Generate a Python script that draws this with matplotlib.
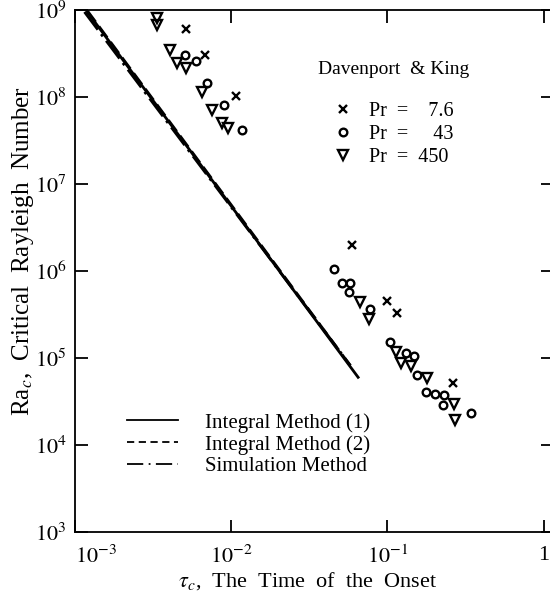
import numpy as np
import matplotlib
matplotlib.use('Agg')
import matplotlib.pyplot as plt
from matplotlib.lines import Line2D
from matplotlib.ticker import FixedLocator, NullLocator

plt.rcParams['font.family'] = ['Liberation Serif', 'DejaVu Serif']
plt.rcParams['mathtext.fontset'] = 'stix'

# ---- data ----
line_labels = ['Integral Method (1)', 'Integral Method (2)', 'Simulation Method']
int1_tau = [1.20e-3, 0.065]
int1_ra = [9.5e8, 6.0e4]
int2_tau = [1.20e-3, 0.060]
int2_ra = [9.8e8, 7.5e4]
sim_tau = [1.15e-3, 0.058]
sim_ra = [9.5e8, 8.2e4]

pr76_tau = [5.15e-3, 6.8e-3, 1.08e-2, 0.0597, 0.100, 0.116, 0.265]
pr76_ra = [6.05e8, 3.04e8, 1.03e8, 1.99e6, 4.52e5, 3.29e5, 5.16e4]

pr43_tau = [5.07e-3, 5.97e-3, 7.02e-3, 9.0e-3, 1.18e-2, 0.0457, 0.0515, 0.058,
            0.057, 0.0778, 0.1045, 0.1325, 0.149, 0.1555, 0.178, 0.203, 0.232,
            0.2285, 0.345]
pr43_ra = [3.04e8, 2.59e8, 1.45e8, 8.1e7, 4.18e7, 1.05e6, 7.28e5, 7.28e5,
           5.74e5, 3.66e5, 1.53e5, 1.14e5, 1.05e5, 6.38e4, 4.07e4, 3.86e4,
           3.76e4, 2.88e4, 2.33e4]

pr450_tau = [3.36e-3, 3.36e-3, 4.06e-3, 4.51e-3, 5.15e-3, 6.52e-3, 7.55e-3,
             8.75e-3, 9.57e-3, 0.0672, 0.0768, 0.114, 0.123, 0.1426, 0.180,
             0.268, 0.273]
pr450_ra = [8.1e8, 6.7e8, 3.47e8, 2.46e8, 2.15e8, 1.14e8, 7.1e7, 5.0e7,
            4.4e7, 4.4e5, 2.8e5, 1.17e5, 8.77e4, 8.1e4, 5.9e4, 2.96e4, 1.94e4]

series_labels = ['Pr  =    7.6', 'Pr  =     43', 'Pr  =  450']
source_label = 'Davenport  & King'

x_ticks = [1e-3, 1e-2, 1e-1, 1]
x_ticklabels = ['$10^{-3}$', '$10^{-2}$', '$10^{-1}$', '1']
y_ticks = [1e3, 1e4, 1e5, 1e6, 1e7, 1e8, 1e9]
y_ticklabels = ['$10^{%d}$' % k for k in range(3, 10)]

# ---- figure ----
W, H = 550, 595
fig = plt.figure(figsize=(W / 100, H / 100), dpi=100)
left_px, bottom_px, top_px = 75, 532, 10
ax = fig.add_axes([left_px / W, 1 - bottom_px / H, 478 / W, (bottom_px - top_px) / H])
ax.set_xscale('log')
ax.set_yscale('log')
ax.set_xlim(1e-3, 1.15)
ax.set_ylim(1e3, 1e9)

lw = 2.0
ax.plot(int1_tau, int1_ra, color='black', lw=lw, ls='-')
ax.plot(int2_tau, int2_ra, color='black', lw=lw, ls=(0, (5, 2)))
ax.plot(sim_tau, sim_ra, color='black', lw=lw, ls=(0, (8, 2, 1, 2)))

mk = dict(color='black', ls='none', mew=1.7)
ax.plot(pr76_tau, pr76_ra, marker='x', ms=6, **mk)
ax.plot(pr43_tau, pr43_ra, marker='o', ms=5.5, mfc='none', **mk)
ax.plot(pr450_tau, pr450_ra, marker='v', ms=7, mfc='none', **mk)

ax.xaxis.set_major_locator(FixedLocator(x_ticks))
ax.set_xticklabels(x_ticklabels)
ax.xaxis.set_minor_locator(NullLocator())
ax.yaxis.set_major_locator(FixedLocator(y_ticks))
ax.set_yticklabels(y_ticklabels)
ax.yaxis.set_minor_locator(NullLocator())
ax.tick_params(which='major', direction='in', length=9, width=1.3,
               top=True, right=True, labelsize=16)
ax.tick_params(axis='x', pad=10)
ax.tick_params(axis='y', pad=6)
ax.get_xticklabels()[0].set_horizontalalignment('left')
for s in ax.spines.values():
    s.set_linewidth(1.3)

ax.set_xlabel(r'$\tau_c$,  The  Time  of  the  Onset', fontsize=16)
ax.xaxis.set_label_coords((308 - left_px) / 478, -(570 - bottom_px) / 522)
ax.set_ylabel(r'Ra$_c$,  Critical  Rayleigh  Number', fontsize=18)
ax.yaxis.set_label_coords(-(left_px - 36) / 478, (bottom_px - 251) / 522)

# marker legend
fig.text(318 / W, 1 - 70 / H, source_label, fontsize=14, va='center', ha='left')
h_mk = [Line2D([], [], marker='x', ms=6, **mk),
        Line2D([], [], marker='o', ms=5.5, mfc='none', **mk),
        Line2D([], [], marker='v', ms=7, mfc='none', **mk)]
leg1 = fig.legend(h_mk, series_labels, loc='upper left',
                  bbox_to_anchor=(333 / W, 1 - 102 / H), frameon=False,
                  borderpad=0, borderaxespad=0, handlelength=1.0,
                  handletextpad=0.8, labelspacing=0.2, fontsize=14.5)

h_ln = [Line2D([], [], color='black', lw=1.3, ls='-'),
        Line2D([], [], color='black', lw=1.3, ls=(0, (4, 2.5))),
        Line2D([], [], color='black', lw=1.3, ls=(0, (9, 3, 1, 3)))]
leg2 = fig.legend(h_ln, line_labels, loc='upper left',
                  bbox_to_anchor=(127 / W, 1 - 413 / H), frameon=False,
                  borderpad=0, borderaxespad=0, handlelength=2.45,
                  handletextpad=1.3, labelspacing=0.1, fontsize=15)

fig.savefig('out.png', dpi=100)
